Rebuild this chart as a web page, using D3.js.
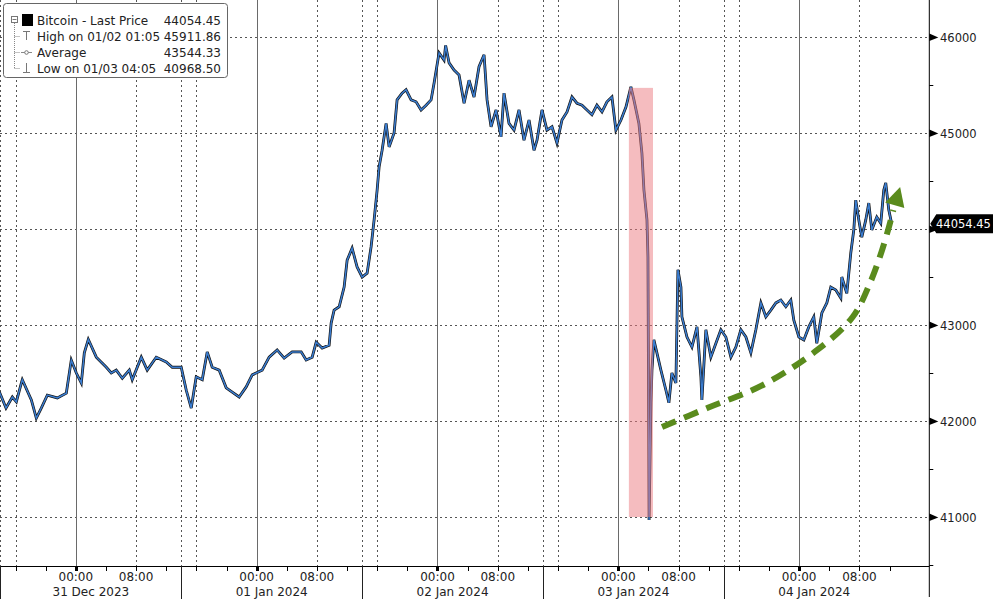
<!DOCTYPE html>
<html><head><meta charset="utf-8">
<script src="https://cdn.jsdelivr.net/npm/d3@7"></script>
<style>html,body{margin:0;padding:0;background:#fff;} svg{display:block;font-family:"DejaVu Sans",sans-serif;}</style>
</head><body><svg id="c" width="993" height="599"></svg>
<script>
// ---- data (hours relative to 31 Dec 2023 00:00) ----
const hours = [
-10.15,-9.26,-8.42,-7.89,-7.23,-7.10,-5.90,-5.24,-4.58,-3.78,
-2.45,-1.26,-0.60,0.07,0.73,1.13,1.66,2.72,4.05,4.71,
5.37,6.17,7.10,7.49,8.69,9.48,10.68,12.00,12.80,13.99,
14.66,15.32,15.98,16.78,17.44,18.10,19.03,19.96,20.76,21.68,
22.61,23.41,24.73,25.66,26.72,27.65,28.71,29.91,30.57,31.37,
31.90,32.69,33.62,
33.89,34.28,34.95,35.61,36.01,36.67,37.33,38.00,38.66,39.19,
39.59,39.99,40.25,40.65,41.18,41.58,42.24,42.64,43.30,43.83,
44.50,45.16,45.82,46.49,47.15,47.55,48.21,48.87,49.08,49.54,
50.20,50.86,51.53,52.19,52.85,53.51,54.18,54.58,55.11,55.77,
56.43,56.83,57.49,58.16,58.82,59.48,60.15,60.81,61.21,61.87,
62.53,63.20,63.86,64.52,65.19,65.85,66.51,67.18,67.84,68.50,
69.16,69.83,70.49,71.15,71.68,72.35,73.01,73.67,
74.07,74.73,75.13,75.40,75.80,75.93,76.00,76.08,76.33,76.46,
76.72,77.12,77.65,78.32,78.71,79.11,79.64,79.91,80.31,
80.44,81.11,81.77,82.44,82.96,83.09,83.62,84.28,84.95,85.61,
86.27,86.94,87.60,88.26,88.93,89.59,90.25,90.92,91.58,92.24,
92.91,93.57,94.23,94.89,95.29,95.96,96.62,97.28,97.94,98.34,
99.01,99.67,100.20,100.86,101.53,101.66,102.32,102.85,103.25,103.51,
103.91,104.31,104.84,105.24,105.64,106.30,106.83,107.23,107.49,107.89,
108.28];
const prices = [
42305,42135,42250,42200,42395,42430,42220,42030,42135,42270,
42240,42290,42635,42500,42395,42710,42850,42665,42560,42500,
42530,42445,42530,42430,42665,42530,42665,42615,42560,42560,
42320,42135,42460,42430,42720,42560,42530,42345,42300,42250,
42355,42480,42530,42665,42740,42655,42720,42720,42635,42665,
42820,42760,42790,
43020,43155,43190,43395,43675,43800,43605,43500,43540,43815,
44095,44405,44645,44820,45100,44855,45000,45345,45415,45450,
45345,45325,45240,45290,45345,45520,45835,45760,45911.86,45730,
45655,45605,45310,45550,45375,45690,45815,45345,45065,45240,
44960,45415,45100,45030,45240,44925,45135,44820,44925,45240,
45030,45065,44895,45135,45220,45375,45310,45290,45240,45190,
45290,45220,45325,45375,45030,45135,45270,45480,
45345,45100,44790,44405,44095,43710,42530,40968.5,42190,42530,
42845,42710,42530,42320,42190,42500,42395,43575,43395,
43085,42875,42770,42980,42460,42220,42950,42665,42810,42950,
42875,42665,42770,42950,42875,42710,42950,43230,43085,43155,
43230,43260,43190,43260,43050,42875,42845,42980,43085,42810,
43125,43230,43395,43365,43280,43500,43330,43750,43990,44300,
44095,43915,44095,44270,43990,44125,44060,44405,44480,44200,
44054.45];
const yTicks = [41000,42000,43000,44000,45000,46000];
const yMinorTicks = [40500,41500,42500,43500,44500,45500];
const hourLabelTimes = [0,8,24,32,48,56,72,80,96,104];
const dayLabels = ["31 Dec 2023","01 Jan 2024","02 Jan 2024","03 Jan 2024","04 Jan 2024"];
const dayLabelTimes = [2,26,50,74,98];
const legendLabels = ["Bitcoin - Last Price","High on 01/02 01:05","Average","Low on 01/03 04:05"];
const legendValues = ["44054.45","45911.86","43544.33","40968.50"];
const lastPrice = 44054.45;
const bandHours = [73.4,76.6];
const bandPrices = [41000,45470];
const trendHours = [77.8,83.8,91.2,98.4,103.1,105.4,106.7,107.8,108.5];
const trendPrices = [41937,42135,42375,42740,43083,43437,43708,43990,44198];
const arrowTip = [109.4,44437];

// ---- scales ----
const base = Date.UTC(2023,11,31);
const toDate = h => new Date(base + h*3600000);
const W = 993, H = 599;
const axisX = 929.3, axisY = 566;
const x = d3.scaleUtc().domain([toDate(-10.06), toDate(113.27)]).range([0, axisX]);
const y = d3.scaleLinear().domain([41000,46000]).range([517,37]);
const svg = d3.select("#c");
const data = hours.map((h,i)=>({d:toDate(h), v:prices[i]}));

// ---- grid ----
const g = svg.append("g");
g.selectAll("line.hg").data(yTicks).join("line")
  .attr("x1",0).attr("x2",axisX).attr("y1",d=>Math.round(y(d))+0.5).attr("y2",d=>Math.round(y(d))+0.5)
  .attr("stroke","#555").attr("stroke-dasharray","2,3").attr("stroke-width",1);
const gridTimes = d3.utcHours(toDate(-10), toDate(108.6), 2);
g.selectAll("line.vd").data(gridTimes.filter(t=>[8,14,16].includes(t.getUTCHours()))).join("line")
  .attr("x1",d=>Math.round(x(d))+0.5).attr("x2",d=>Math.round(x(d))+0.5).attr("y1",0).attr("y2",axisY)
  .attr("stroke","#555").attr("stroke-dasharray","2,3");
g.selectAll("line.vs").data(gridTimes.filter(t=>t.getUTCHours()===0)).join("line")
  .attr("x1",d=>Math.round(x(d))+0.5).attr("x2",d=>Math.round(x(d))+0.5).attr("y1",0).attr("y2",axisY)
  .attr("stroke","#6a6a6a").attr("stroke-width",1);

// ---- price line ----
const line = d3.line().x(d=>x(d.d)).y(d=>y(d.v));
svg.append("path").datum(data).attr("d",line).attr("fill","none")
  .attr("stroke","#111").attr("stroke-width",2.8).attr("stroke-linejoin","miter");
svg.append("path").datum(data).attr("d",line).attr("fill","none")
  .attr("stroke","#3b7dd0").attr("stroke-width",1.5);

// ---- crash band ----
svg.append("rect")
  .attr("x",x(toDate(bandHours[0]))).attr("width",x(toDate(bandHours[1]))-x(toDate(bandHours[0])))
  .attr("y",y(bandPrices[1])).attr("height",y(bandPrices[0])-y(bandPrices[1]))
  .attr("fill","rgb(235,121,127)").attr("opacity",0.5);

// ---- trend arrow ----
const tp = trendHours.map((h,i)=>[x(toDate(h)), y(trendPrices[i])]);
const tip = [x(toDate(arrowTip[0])), y(arrowTip[1])];
const last = tp[tp.length-1];
let dx = tip[0]-last[0], dy = tip[1]-last[1]; const dl = Math.hypot(dx,dy); dx/=dl; dy/=dl;
const bc = [tip[0]-19*dx, tip[1]-19*dy];
svg.append("path").attr("d", d3.line().curve(d3.curveCatmullRom)(tp))
  .attr("fill","none").attr("stroke","#5a8b1d").attr("stroke-width",6).attr("stroke-dasharray","15,9");
svg.append("path").attr("d",`M${tip[0]},${tip[1]}L${bc[0]-10*dy},${bc[1]+10*dx}L${bc[0]+10*dy},${bc[1]-10*dx}Z`)
  .attr("fill","#5a8b1d");

// ---- right axis ----
const ly = y(lastPrice);
svg.append("line").attr("x1",axisX).attr("x2",axisX).attr("y1",0).attr("y2",597).attr("stroke","#000");
svg.selectAll("path.tri").data(yTicks).join("path")
  .attr("d",d=>`M${axisX},${y(d)-3.5}L${axisX+9},${y(d)+0.5}L${axisX},${y(d)+4}Z`).attr("fill","#000");
svg.selectAll("line.minor").data(yMinorTicks).join("line")
  .attr("x1",axisX).attr("x2",axisX+4).attr("y1",d=>Math.round(y(d))+0.5).attr("y2",d=>Math.round(y(d))+0.5).attr("stroke","#000");
// the 44000 label sits under the last-price tag in the reference, so only unobscured labels are drawn
svg.selectAll("text.yl").data(yTicks.filter(d=>Math.abs(y(d)-ly)>12)).join("text")
  .attr("x",940).attr("y",d=>y(d)+4.5).text(d=>d).attr("font-size",11.5).attr("fill","#222");

// ---- bottom axis ----
svg.append("line").attr("x1",0).attr("x2",axisX).attr("y1",axisY+0.5).attr("y2",axisY+0.5).attr("stroke","#000");
const tickTimes = d3.utcHours(toDate(-8), toDate(108.6), 4);
svg.selectAll("line.bt").data(tickTimes).join("line")
  .attr("x1",d=>Math.round(x(d))+0.5).attr("x2",d=>Math.round(x(d))+0.5).attr("y1",axisY).attr("y2",axisY+5)
  .attr("stroke","#000").attr("stroke-width",d=>d.getUTCHours()===0?3:1);
svg.selectAll("line.sep").data(gridTimes.filter(t=>t.getUTCHours()===14)).join("line")
  .attr("x1",d=>Math.round(x(d))+0.5).attr("x2",d=>Math.round(x(d))+0.5).attr("y1",axisY).attr("y2",H)
  .attr("stroke","#222");
const fmtH = d3.utcFormat("%H:%M");
svg.selectAll("text.hl").data(hourLabelTimes).join("text")
  .attr("x",d=>x(toDate(d))).attr("y",581).attr("text-anchor","middle").attr("font-size",12).attr("fill","#222")
  .text(d=>fmtH(toDate(d)));
svg.selectAll("text.dl").data(dayLabels).join("text")
  .attr("x",(d,i)=>x(toDate(dayLabelTimes[i]))).attr("y",596).attr("text-anchor","middle").attr("font-size",12).attr("fill","#222")
  .text(d=>d);

// ---- last price tag ----
svg.append("path").attr("d",`M${axisX+1},${ly}L${axisX+7},${ly-9.5}L${W},${ly-9.5}L${W},${ly+9.5}L${axisX+7},${ly+9.5}Z`).attr("fill","#000");
svg.append("text").attr("x",936).attr("y",ly+4.5).attr("font-size",11.5).attr("fill","#fff").text(lastPrice.toFixed(2));

// ---- legend ----
const lg = svg.append("g");
lg.append("rect").attr("x",3.5).attr("y",3.5).attr("width",224).attr("height",74).attr("rx",3)
  .attr("fill","#fff").attr("stroke","#666");
const rowY = [20,36,52,68];
lg.append("line").attr("x1",14.5).attr("x2",14.5).attr("y1",23).attr("y2",68).attr("stroke","#888").attr("stroke-dasharray","1,1");
rowY.slice(1).forEach(r=>lg.append("line").attr("x1",14.5).attr("x2",20).attr("y1",r+0.5).attr("y2",r+0.5).attr("stroke","#888").attr("stroke-dasharray","1,1"));
lg.append("rect").attr("x",11.5).attr("y",16.5).attr("width",6).attr("height",6).attr("fill","#fff").attr("stroke","#777");
lg.append("line").attr("x1",12.5).attr("x2",16.5).attr("y1",19.5).attr("y2",19.5).attr("stroke","#777");
lg.append("rect").attr("x",22).attr("y",14).attr("width",11).attr("height",12).attr("fill","#000");
lg.append("path").attr("d","M23,31.5H30M26.5,31.5V40").attr("stroke","#777").attr("fill","none");
lg.append("path").attr("d","M21,52.5H32").attr("stroke","#888").attr("fill","none");
lg.append("circle").attr("cx",26.5).attr("cy",52.5).attr("r",1.8).attr("fill","#fff").attr("stroke","#777");
lg.append("path").attr("d","M26.5,63V72.5M23,72.5H30").attr("stroke","#777").attr("fill","none");
lg.selectAll("text.ll").data(legendLabels).join("text")
  .attr("x",37).attr("y",(d,i)=>rowY[i]+4.5).attr("font-size",12).attr("fill","#222").text(d=>d);
lg.selectAll("text.lv").data(legendValues).join("text")
  .attr("x",221).attr("y",(d,i)=>rowY[i]+4.5).attr("font-size",12).attr("text-anchor","end").attr("fill","#222").text(d=>d);
</script></body></html>
